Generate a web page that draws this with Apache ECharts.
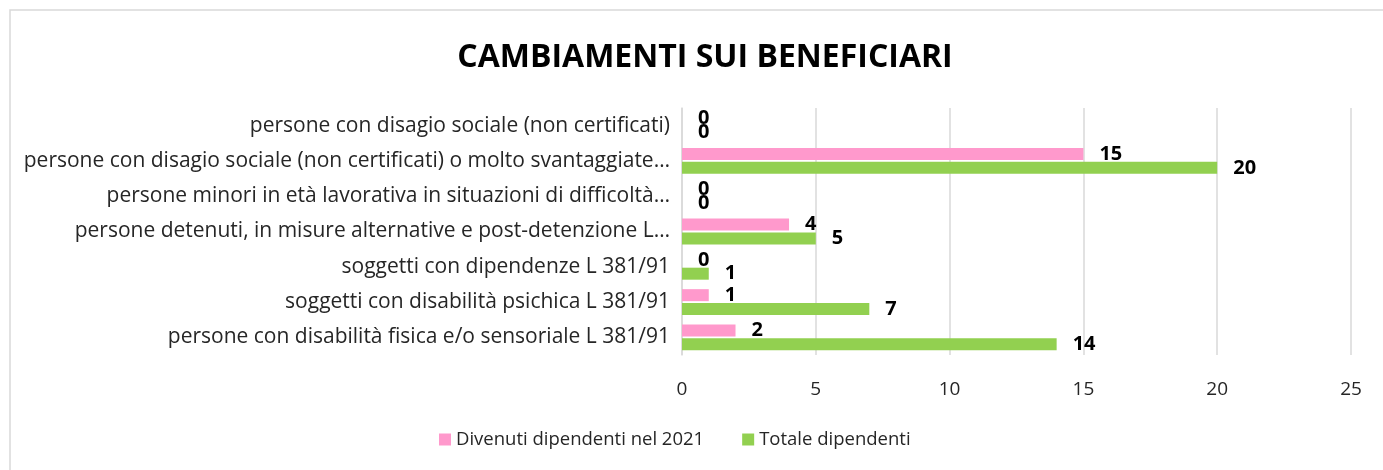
<!DOCTYPE html>
<html lang="it">
<head>
    <meta charset="utf-8">
    <title>Cambiamenti sui beneficiari</title>
    <script src="https://cdn.jsdelivr.net/npm/echarts@6.0.0/dist/echarts.min.js"></script>
    <style>
        html, body { margin: 0; padding: 0; background: #fff; }
        #chart { width: 1383px; height: 470px; }
    </style>
</head>
<body>
<div id="chart"></div>
<script type="text/javascript">

// categorie, dal basso verso l'alto
var categories = [
    'persone con disabilità fisica e/o sensoriale L 381/91',
    'soggetti con disabilità psichica L 381/91',
    'soggetti con dipendenze L 381/91',
    'persone detenuti, in misure alternative e post-detenzione L…',
    'persone minori in età lavorativa in situazioni di difficoltà…',
    'persone con disagio sociale (non certificati) o molto svantaggiate…',
    'persone con disagio sociale (non certificati)'
];
var divenuti2021 = [2, 1, 0, 4, 0, 15, 0];
var totaleDipendenti = [14, 7, 1, 5, 0, 20, 0];
var seriesNames = ['Divenuti dipendenti nel 2021', 'Totale dipendenti'];

var font = 'Open Sans';
var textColor = '#262626';

var chart = echarts.init(document.getElementById('chart'));

var labelStyle = {
    show: true,
    position: 'right',
    distance: 16,
    fontFamily: font,
    fontWeight: 'bold',
    fontSize: 20,
    color: '#000'
};

chart.setOption({
    animation: false,
    graphic: [{
        // cornice del grafico
        type: 'rect',
        shape: { x: 10, y: 10, width: 1400, height: 500 },
        style: { fill: 'none', stroke: '#d9d9d9', lineWidth: 1.5 },
        silent: true
    }],
    title: {
        text: 'CAMBIAMENTI SUI BENEFICIARI',
        left: 700,
        top: 37,
        textAlign: 'center',
        textStyle: {
            fontFamily: font,
            fontWeight: 'bold',
            fontSize: 32,
            color: '#000'
        }
    },
    legend: {
        bottom: 16,
        left: 434,
        itemWidth: 12,
        itemHeight: 12,
        itemGap: 38,
        icon: 'rect',
        textStyle: { fontFamily: font, fontSize: 18.5, color: textColor }
    },
    grid: {
        left: 682,
        right: 32,
        top: 108,
        bottom: 115,
        containLabel: false
    },
    xAxis: {
        type: 'value',
        min: 0,
        max: 25,
        interval: 5,
        axisLine: { show: false },
        axisTick: { show: false },
        axisLabel: { fontFamily: font, fontSize: 19, color: textColor, margin: 25 },
        splitLine: { lineStyle: { color: '#d9d9d9', width: 1.5 } }
    },
    yAxis: {
        type: 'category',
        data: categories,
        axisLine: { show: true, lineStyle: { color: '#d9d9d9', width: 1.5 } },
        axisTick: { show: false },
        axisLabel: { fontFamily: font, fontSize: 21, color: textColor, margin: 12 }
    },
    series: [{
        name: seriesNames[0],
        type: 'bar',
        data: divenuti2021,
        barWidth: 12,
        barGap: '15%',
        itemStyle: { color: '#ff99cc' },
        label: labelStyle
    }, {
        name: seriesNames[1],
        type: 'bar',
        data: totaleDipendenti,
        barWidth: 12,
        barGap: '15%',
        itemStyle: { color: '#92d050' },
        label: labelStyle
    }]
});

</script>
</body>
</html>
